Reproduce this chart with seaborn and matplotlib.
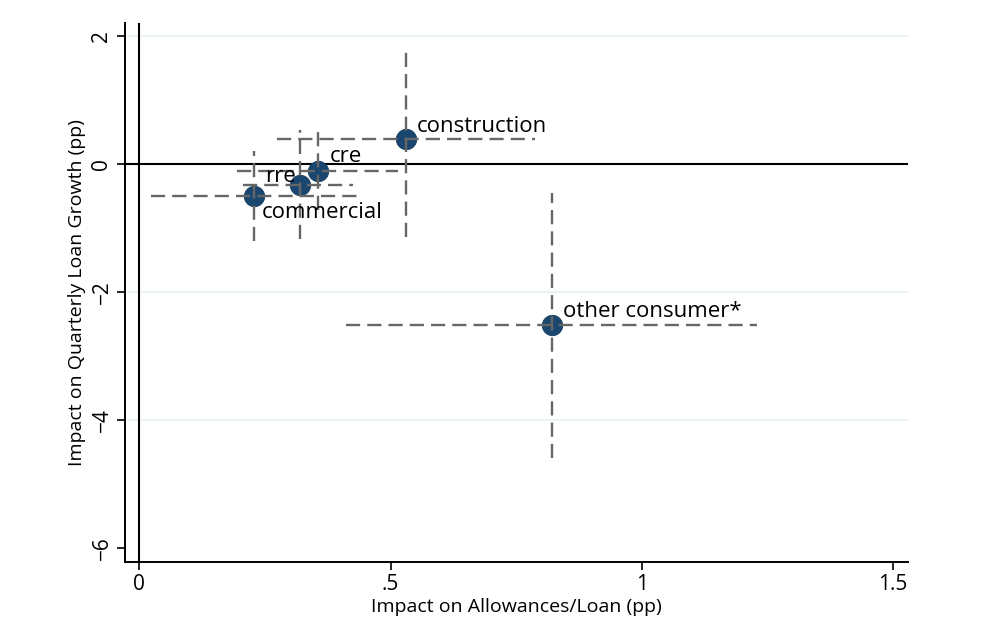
import matplotlib
matplotlib.use('Agg')

import matplotlib.pyplot as plt
import seaborn as sns
import pandas as pd

# point estimates and 95% intervals
sectors = ["construction", "cre", "rre", "commercial", "other consumer*"]
allow = [0.531, 0.356, 0.320, 0.228, 0.821]
growth = [0.396, -0.105, -0.325, -0.497, -2.525]
allow_lo = [0.274, 0.195, 0.207, 0.023, 0.411]
allow_hi = [0.787, 0.515, 0.426, 0.435, 1.230]
growth_lo = [-1.138, -0.715, -1.180, -1.200, -4.596]
growth_hi = [1.836, 0.495, 0.537, 0.208, -0.454]

x_ticks = [0, 0.5, 1, 1.5]
x_tick_labels = ["0", ".5", "1", "1.5"]
y_ticks = [-6, -4, -2, 0, 2]
y_tick_labels = ["\u22126", "\u22124", "\u22122", "0", "2"]
grid_at = [2, -2, -4]

# label offsets (points) and alignment, like Stata clock positions
label_pos = {
    "construction": (8, 9, "left"),
    "cre": (8, 10, "left"),
    "rre": (-3, 6, "right"),
    "commercial": (6, -12, "left"),
    "other consumer*": (8, 10, "left"),
}

df = pd.DataFrame({"sector": sectors, "allow": allow, "growth": growth})

sns.set_theme(style="white")
plt.rcParams['font.family'] = ['Open Sans', 'DejaVu Sans']
plt.rcParams['text.color'] = 'black'
plt.rcParams['axes.labelcolor'] = 'black'
plt.rcParams['xtick.color'] = 'black'
plt.rcParams['ytick.color'] = 'black'

fig = plt.figure(figsize=(10, 6.36), dpi=100)
ax = fig.add_axes([0.125, 0.1164, 0.783, 0.8474])

for g in grid_at:
    ax.axhline(g, color="#eaf2f3", lw=1.4, zorder=0)

ax.axhline(0, color="black", lw=1.5, zorder=1)
ax.axvline(0, color="black", lw=1.5, zorder=1)

sns.scatterplot(data=df, x="allow", y="growth", ax=ax, s=215,
                color="#1a476f", edgecolor="#163d5e", linewidth=0.6,
                zorder=3, legend=False)

dash = (0, (6, 3))
ax.hlines(growth, allow_lo, allow_hi, colors="#666666", linestyles=dash,
          lw=1.7, zorder=4)
ax.vlines(allow, growth_lo, growth_hi, colors="#666666", linestyles=dash,
          lw=1.7, zorder=4)

for name, xv, yv in zip(sectors, allow, growth):
    dx, dy, ha = label_pos[name]
    ax.annotate(name, (xv, yv), xytext=(dx, dy), textcoords="offset points",
                ha=ha, va="center", fontsize=16, color="black", zorder=5)

ax.set_xlim(-0.0285, 1.530)
ax.set_ylim(-6.224, 2.203)
ax.set_xticks(x_ticks)
ax.set_xticklabels(x_tick_labels)
ax.set_yticks(y_ticks)
ax.set_yticklabels(y_tick_labels, rotation=90, va="center")

ax.tick_params(axis="both", direction="out", length=6, width=1.2,
               color="black", labelcolor="black", labelsize=15,
               bottom=True, left=True, pad=3)

ax.set_xlabel("Impact on Allowances/Loan (pp)", fontsize=14, labelpad=2)
ax.set_ylabel("Impact on Quarterly Loan Growth (pp)", fontsize=14, labelpad=4)

for side in ["top", "right"]:
    ax.spines[side].set_visible(False)
for side in ["left", "bottom"]:
    ax.spines[side].set_color("black")
    ax.spines[side].set_linewidth(1.4)

fig.savefig("out.png", dpi=100, facecolor="white")
plt.close(fig)
